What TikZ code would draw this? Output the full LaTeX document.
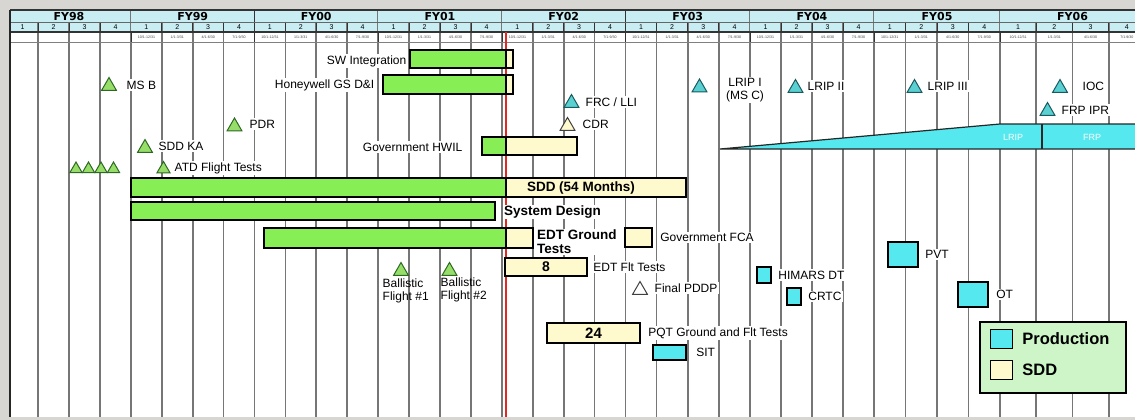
\documentclass[tikz,border=0pt]{standalone}
\usepackage{fontspec}
\setmainfont{Liberation Sans}
\newfontfamily\hdrfont{DejaVu Sans}
\usetikzlibrary{shapes.geometric,positioning}

\definecolor{frameGray}{RGB}{216,214,210}
\definecolor{hdrCyan}{RGB}{200,238,244}
\definecolor{gridGray}{RGB}{118,118,118}
\definecolor{barGreen}{RGB}{136,238,85}
\definecolor{sddYellow}{RGB}{255,250,205}
\definecolor{prodCyan}{RGB}{85,232,238}
\definecolor{mileGreen}{RGB}{150,222,105}
\definecolor{mileGreenDark}{RGB}{45,105,35}
\definecolor{mileTeal}{RGB}{90,208,210}
\definecolor{mileTealDark}{RGB}{25,90,95}
\definecolor{legendGreen}{RGB}{206,245,200}
\definecolor{todayRed}{RGB}{225,40,35}

\tikzset{
every node/.style={inner sep=1pt},
greenbar/.style={draw=black,line width=1.3pt,fill=barGreen},
sddbar/.style={draw=black,line width=1.3pt,fill=sddYellow},
prodbox/.style={draw=black,line width=1.3pt,fill=prodCyan,inner sep=0pt},
sddbox/.style={draw=black,line width=1.3pt,fill=sddYellow,inner sep=0pt},
mile/.style={regular polygon,regular polygon sides=3,minimum size=17pt,inner sep=0pt,line width=1pt},
milegreen/.style={mile,draw=mileGreenDark,fill=mileGreen},
mileteal/.style={mile,draw=mileTealDark,fill=mileTeal},
mileyellow/.style={mile,draw=black!75,fill=sddYellow},
mileopen/.style={mile,draw=black!75,fill=white},
lbl/.style={fill=white,inner sep=1.5pt,font=\fontsize{12}{13}\selectfont},
boldlbl/.style={inner sep=1pt,font=\bfseries\fontsize{13.5}{14}\selectfont},
legtxt/.style={inner sep=1pt,font=\bfseries\fontsize{16.5}{17}\selectfont},
hdr/.style={font=\hdrfont\bfseries\fontsize{11}{12}\selectfont,inner sep=0pt},
qtr/.style={font=\fontsize{7}{7}\selectfont,inner sep=0pt},
datetxt/.style={font=\fontsize{3.6}{4}\selectfont,text=black!75,inner sep=0pt},
gridline/.style={draw=gridGray,line width=1.6pt}
}

\begin{document}
\begin{tikzpicture}[x=1pt,y=-1pt]
\useasboundingbox (0,0) rectangle (1135,420);

% frame and chart area
\fill[frameGray] (0,0) rectangle (1135,420);
\fill[white] (10,10) rectangle (1135,417);

\begin{scope}
\clip (10,10) rectangle (1135,417);

% fiscal years, quarters and the grid below them
\foreach \a/\b/\yr in {7/131/98,131/254.5/99,254.5/378/00,378/502/01,502/625.5/02,625.5/750/03,750/874/04,874/1000/05,1000/1145/06}{
  \pgfmathsetmacro{\qw}{(\b-\a)/4}
  \fill[hdrCyan] (\a,10) rectangle (\b,32);
  \node[hdr] (fy\yr) at ({(\a+\b)/2},16.5) {FY\yr};
  \foreach \k in {1,2,3}{
    \draw[gridline] ({\a+\k*\qw},22) -- ({\a+\k*\qw},417);
    \draw[black!80,line width=0.8pt] ({\a+\k*\qw},22) -- ({\a+\k*\qw},32);
  }
  \foreach \k in {1,...,4}
    \node[qtr] (q\yr\k) at ({\a+(\k-0.5)*\qw},27.5) {\k};
  \draw[gridline] (\b,10) -- (\b,417);
  \draw[black!80,line width=1pt] (\b,10) -- (\b,42);
}

% dates under the quarters
\foreach \a/\b in {131/254.5,254.5/378,378/502,502/625.5,625.5/750,750/874,874/1000,1000/1145}{
  \pgfmathsetmacro{\qw}{(\b-\a)/4}
  \foreach \d [count=\k] in {{10/1-12/31},{1/1-3/31},{4/1-6/30},{7/1-9/30}}
    \node[datetxt] at ({\a+(\k-0.5)*\qw},37) {\d};
}

\draw[black!80,line width=1.2pt] (10,10) -- (1135,10);
\draw[black!60,line width=0.6pt] (10,22) -- (1135,22);
\draw[black!80,line width=1.2pt] (10,32) -- (1135,32);
\draw[black!50,line width=0.6pt] (10,42) -- (1135,42);

% status line
\draw[todayRed,line width=1.8pt] (506,32) -- (506,417);

% production ramp
\filldraw[fill=prodCyan,draw=black!85,line width=1.2pt] (720,149) -- (1000,124) -- (1145,124) -- (1145,149) -- cycle;
\draw[black!85,line width=1.2pt] (1042,124) -- (1042,149);
\node[text=white,font=\fontsize{9}{9}\selectfont] (lrip) at (1013,137) {LRIP};
\node[text=white,font=\fontsize{9}{9}\selectfont] (frp) at (1092,137) {FRP};
\end{scope}

\draw[black!85,line width=1.5pt] (10,10) -- (10,417);

% bars
\draw[greenbar] (410,50) rectangle (506,68);
\draw[sddbar] (506,50) rectangle (513,68);
\node[lbl,anchor=east] (swint) at (408,61) {SW Integration};

\draw[greenbar] (383,75) rectangle (506,94);
\draw[sddbar] (506,75) rectangle (513,94);
\node[lbl,anchor=east] (hwgs) at (376,85) {Honeywell GS D\&I};

\draw[greenbar] (482,137) rectangle (506,155);
\draw[sddbar] (506,137) rectangle (577,155);
\node[lbl,anchor=east] (hwil) at (464,147) {Government HWIL};

\draw[greenbar] (131,178) rectangle (506,197);
\draw[sddbar] (506,178) rectangle (686,197);
\node[boldlbl] (sdd) at (581,188) {SDD (54 Months)};

\draw[greenbar] (131,202) rectangle (495,220);
\node[boldlbl,fill=white,anchor=west] (sysdes) at (503,212) {System Design};

\draw[greenbar] (264,228) rectangle (506,248);
\draw[sddbar] (506,228) rectangle (533,248);
\node[boldlbl,fill=white,anchor=north west,align=left] (edtgt) at (536,229) {EDT Ground\\Tests};

% single boxes
\node[sddbox,minimum width=27pt,minimum height=19pt] (fca) at (638.5,237.5) {};
\node[lbl,right=6pt of fca] {Government FCA};

\node[sddbox,minimum width=82pt,minimum height=18pt,font=\bfseries\fontsize{14}{14}\selectfont] (edtflt) at (546,267) {8};
\node[lbl,right=4pt of edtflt] {EDT Flt Tests};

\node[sddbox,minimum width=93pt,minimum height=20pt,font=\bfseries\fontsize{15}{15}\selectfont] (pqt) at (593.5,333) {24};
\node[lbl,right=6pt of pqt] {PQT Ground and Flt Tests};

\node[prodbox,minimum width=33pt,minimum height=15pt] (sit) at (669.5,352.5) {};
\node[lbl,right=8pt of sit] {SIT};

\node[prodbox,minimum width=14pt,minimum height=16pt] (himars) at (764,275) {};
\node[lbl,right=5pt of himars] {HIMARS DT};

\node[prodbox,minimum width=14pt,minimum height=17pt] (crtc) at (794,296.5) {};
\node[lbl,right=5pt of crtc] {CRTC};

\node[prodbox,minimum width=30pt,minimum height=25pt] (pvt) at (903,254.5) {};
\node[lbl,right=5pt of pvt] {PVT};

\node[prodbox,minimum width=30pt,minimum height=25pt] (ot) at (973,294.5) {};
\node[lbl,right=6pt of ot] {OT};

% milestones
\node[milegreen] (msb) at (109,86) {};
\node[lbl,anchor=west] at (125,85) {MS B};

\node[milegreen] (pdr) at (234.5,126.5) {};
\node[lbl,anchor=west] at (248,124) {PDR};

\node[milegreen] (sddka) at (145,148) {};
\node[lbl,anchor=west] at (157,146) {SDD KA};

\foreach \x [count=\i] in {76,88.5,101,113.5}
  \node[milegreen,minimum size=14pt] (atd\i) at (\x,169) {};
\node[milegreen,minimum size=15pt] (atd5) at (163.5,169) {};
\node[lbl,anchor=west] at (173,168) {ATD Flight Tests};

\node[milegreen] (bf1) at (401,271) {};
\node[lbl,anchor=north west,align=left,fill=none] at (381,277) {Ballistic\\Flight \#1};
\node[milegreen] (bf2) at (449.5,271) {};
\node[lbl,anchor=north west,align=left,fill=none] at (439,276) {Ballistic\\Flight \#2};

\node[mileteal] (frc) at (571.5,103) {};
\node[lbl,anchor=west] at (584,102) {FRC / LLI};

\node[mileyellow] (cdr) at (567.5,126) {};
\node[lbl,anchor=west] at (581,124) {CDR};

\node[mileopen] (pddp) at (640,290) {};
\node[lbl,anchor=west] at (653,288) {Final PDDP};

\node[mileteal] (lrip1) at (699.5,87.5) {};
\node[lbl,align=center] at (745,90) {LRIP I\\(MS C)};

\node[mileteal] (lrip2) at (795.5,88) {};
\node[lbl,anchor=west] at (806,86) {LRIP II};

\node[mileteal] (lrip3) at (914.5,88) {};
\node[lbl,anchor=west] at (926,86) {LRIP III};

\node[mileteal] (ioc) at (1060,88) {};
\node[lbl,anchor=west] at (1081,86) {IOC};

\node[mileteal] (frpipr) at (1047.5,111) {};
\node[lbl,anchor=west] at (1060,110) {FRP IPR};

% legend
\node[draw=black,line width=1.5pt,fill=legendGreen,minimum width=146pt,minimum height=71pt] (legend) at (1053,357.5) {};
\node[prodbox,minimum width=22pt,minimum height=19pt] (legprod) at (1001.5,339) {};
\node[legtxt,right=8pt of legprod] {Production};
\node[sddbox,minimum width=22pt,minimum height=19pt] (legsdd) at (1001.5,370) {};
\node[legtxt,right=8pt of legsdd] {SDD};

\end{tikzpicture}
\end{document}
